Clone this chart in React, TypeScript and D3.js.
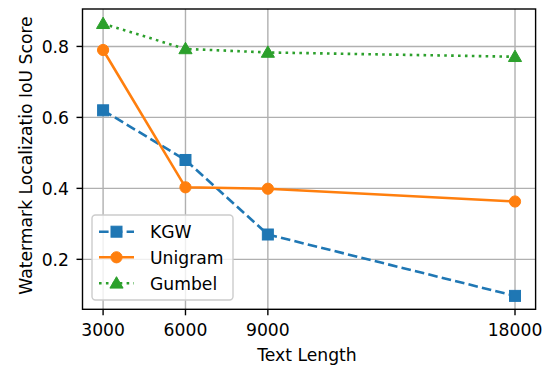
import { useEffect, useRef } from "react"
import * as d3 from "d3"

const textLengths = [3000, 6000, 9000, 18000]
const kgw = [0.62, 0.48, 0.27, 0.097]
const unigram = [0.79, 0.403, 0.399, 0.363]
const gumbel = [0.864, 0.793, 0.783, 0.771]
const yTicks = [0.2, 0.4, 0.6, 0.8]
const xTicks = [3000, 6000, 9000, 18000]

export default function App() {

  const ref = useRef<SVGSVGElement | null>(null)

  useEffect(()=>{

    const svg = d3.select(ref.current)
    svg.selectAll("*").remove()

    const width = 552
    const height = 365
    const left = 82.5, right = 535.6, top = 9, bottom = 309.3
    const font = "DejaVu Sans, sans-serif"
    const fs = 17.2

    svg.attr("width",width).attr("height",height)
    svg.append("rect").attr("width",width).attr("height",height).attr("fill","#fff")

    const x = d3.scaleLinear().domain([2250,18750]).range([left,right])
    const y = d3.scaleLinear().domain([0.0592,0.9055]).range([bottom,top])

    const grid = svg.append("g").attr("stroke","#b0b0b0").attr("stroke-width",1.4)
    xTicks.forEach(t=>{
      grid.append("line").attr("x1",x(t)).attr("x2",x(t)).attr("y1",top).attr("y2",bottom)
    })
    yTicks.forEach(t=>{
      grid.append("line").attr("x1",left).attr("x2",right).attr("y1",y(t)).attr("y2",y(t))
    })

    // ticks + labels
    const ax = svg.append("g").attr("font-family",font).attr("font-size",fs).attr("fill","#000")
    xTicks.forEach(t=>{
      ax.append("line").attr("x1",x(t)).attr("x2",x(t)).attr("y1",bottom).attr("y2",bottom+6)
        .attr("stroke","#000").attr("stroke-width",1.4)
      ax.append("text").attr("x",x(t)).attr("y",336).attr("text-anchor","middle").text(String(t))
    })
    yTicks.forEach(t=>{
      ax.append("line").attr("x1",left-6).attr("x2",left).attr("y1",y(t)).attr("y2",y(t))
        .attr("stroke","#000").attr("stroke-width",1.4)
      ax.append("text").attr("x",69).attr("y",y(t)+6.2).attr("text-anchor","end").text(t.toFixed(1))
    })
    ax.append("text").attr("x",307).attr("y",360.5).attr("text-anchor","middle").text("Text Length")
    ax.append("text").attr("transform",`translate(31.5,155.5) rotate(-90)`)
      .attr("text-anchor","middle").text("Watermark Localizatio IoU Score")

    const series = [
      {name:"KGW",values:kgw,color:"#1f77b4",dash:"9.6,4.2",marker:"square"},
      {name:"Unigram",values:unigram,color:"#ff7f0e",dash:null,marker:"circle"},
      {name:"Gumbel",values:gumbel,color:"#2ca02c",dash:"2.6,4.3",marker:"triangle"},
    ]

    const line = d3.line<number>().x((_,i)=>x(textLengths[i])).y(d=>y(d))

    const drawMarker = (g:any, kind:string, cx:number, cy:number, color:string) => {
      if(kind==="square"){
        g.append("rect").attr("x",cx-5.5).attr("y",cy-5.5).attr("width",11).attr("height",11)
          .attr("fill",color).attr("stroke",color).attr("stroke-width",1)
      } else if(kind==="circle"){
        g.append("circle").attr("cx",cx).attr("cy",cy).attr("r",5.6)
          .attr("fill",color).attr("stroke",color).attr("stroke-width",1)
      } else {
        const sym = d3.symbol().type(d3.symbolTriangle).size(75)
        g.append("path").attr("d",sym()).attr("transform",`translate(${cx},${cy+1})`)
          .attr("fill",color).attr("stroke",color).attr("stroke-width",1)
      }
    }

    const plot = svg.append("g")
    series.forEach(s=>{
      plot.append("path").datum(s.values).attr("d",line).attr("fill","none")
        .attr("stroke",s.color).attr("stroke-width",2.6)
        .attr("stroke-dasharray",s.dash)
      s.values.forEach((v,i)=>drawMarker(plot,s.marker,x(textLengths[i]),y(v),s.color))
    })

    // spines
    svg.append("rect").attr("x",left).attr("y",top).attr("width",right-left).attr("height",bottom-top)
      .attr("fill","none").attr("stroke","#000").attr("stroke-width",1.4)

    // legend
    const lg = svg.append("g")
    lg.append("rect").attr("x",92).attr("y",215).attr("width",141).attr("height",85).attr("rx",3.5)
      .attr("fill","#fff").attr("fill-opacity",0.8).attr("stroke","#cccccc").attr("stroke-width",1.4)
    const rows = [231.7,257.3,283.3]
    series.forEach((s,i)=>{
      const ly = rows[i]
      lg.append("line").attr("x1",99).attr("x2",134).attr("y1",ly).attr("y2",ly)
        .attr("stroke",s.color).attr("stroke-width",2.6).attr("stroke-dasharray",s.dash)
      drawMarker(lg,s.marker,116.5,ly,s.color)
      lg.append("text").attr("x",150).attr("y",ly+6.2).attr("font-family",font).attr("font-size",fs)
        .text(s.name)
    })

  },[])

  return <svg ref={ref} style={{position:"absolute",left:0,top:0,display:"block"}} />
}
